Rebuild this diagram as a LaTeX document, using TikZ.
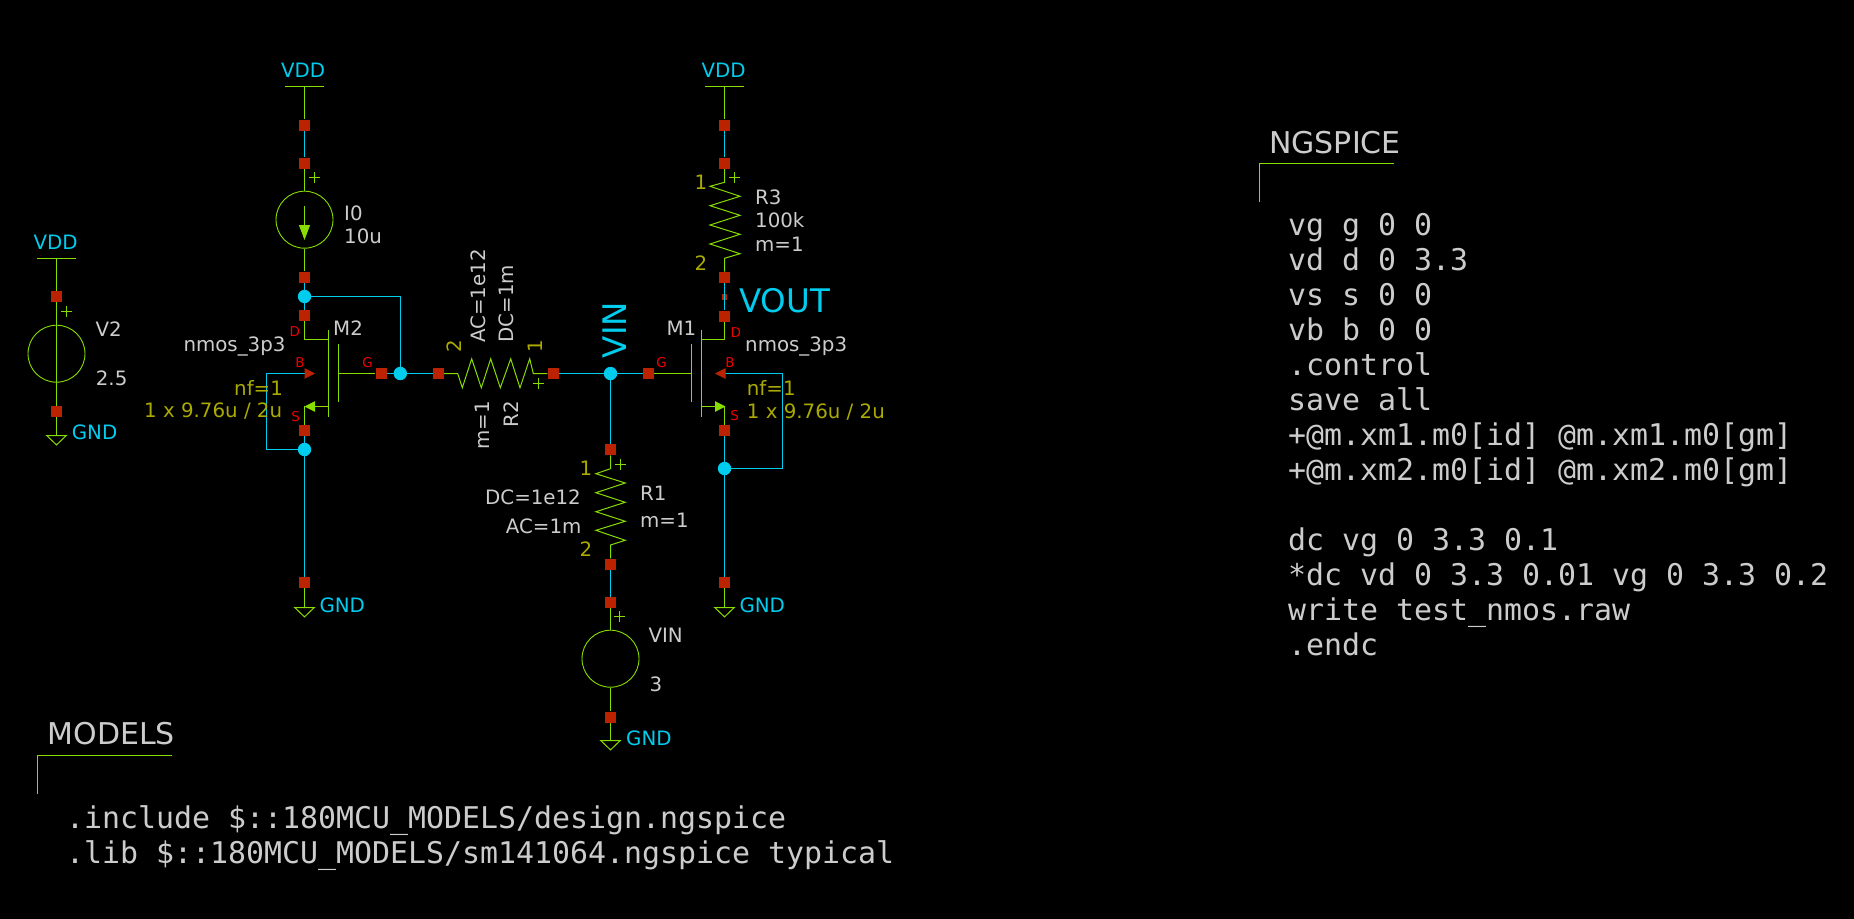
\documentclass[tikz,border=0pt]{standalone}
\usepackage{fontspec}
\setmainfont{DejaVu Sans}
\setmonofont{DejaVu Sans Mono}
\usetikzlibrary{arrows.meta, positioning, backgrounds}
\definecolor{symgreen}{HTML}{88DD00}
\definecolor{wireblue}{HTML}{00CCEE}
\definecolor{pinred}{HTML}{BB2200}
\definecolor{txtgray}{HTML}{CCCCCC}
\definecolor{attrolive}{HTML}{AAAA00}
\definecolor{pintxt}{HTML}{F00000}
\tikzset{
  pinbox/.style={rectangle, fill=pinred, minimum size=11pt, inner sep=0pt},
  tinybox/.style={rectangle, fill=pinred, minimum size=5.6pt, inner sep=0pt},
  junction/.style={circle, fill=wireblue, minimum size=13.4pt, inner sep=0pt},
  srcbody/.style={circle, draw=symgreen, line width=0.9pt, minimum size=57pt, inner sep=0pt},
  symline/.style={draw=symgreen, line width=1pt},
  wire/.style={draw=wireblue, line width=1pt},
  baselbl/.style={inner sep=0pt, anchor=base west, font=\fontsize{19.8}{22}\selectfont},
  textlbl/.style={baselbl, text=txtgray},
  netlbl/.style={baselbl, text=wireblue},
  biglbl/.style={baselbl, text=wireblue, font=\fontsize{32.5}{36}\selectfont},
  attrlbl/.style={baselbl, text=attrolive},
  pinlbl/.style={inner sep=0pt, text=pintxt, font=\fontsize{13.5}{15}\selectfont},
  headlbl/.style={baselbl, text=txtgray, font=\fontsize{30}{32}\selectfont},
  codelbl/.style={inner sep=0pt, anchor=north west, align=left, text=txtgray,
                  font=\ttfamily\fontsize{29.9}{35}\selectfont},
  srctip/.style={-{Triangle[length=10.5pt,width=10.5pt,color=symgreen]}},
  bulktip/.style={-{Triangle[length=10.5pt,width=10.5pt,color=pinred]}},
  plusmark/.pic={\draw[symline] (-5.5,0) -- (5.5,0) (0,-5.5) -- (0,5.5);},
  gndmark/.pic={\draw[symline] (-9.8,0) -- (9.8,0) -- (0,9.4) -- cycle;},
}
\begin{document}
\begin{tikzpicture}[x=1pt, y=-1pt, on grid]
  \useasboundingbox (0,0) rectangle (1854,918);
  \coordinate (vddv) at (56.5,258.5);
  \node[pinbox] (va) at (56.5,296.3) {};
  \node[srcbody, below=57.4pt of va] (vtwo) {};
  \node[pinbox, below=57.6pt of vtwo] (vb) {};
  \coordinate[below=24.2pt of vb] (gndv);
  \coordinate (vddi) at (304.5,86.5);
  \node[pinbox] (ia) at (304.5,125) {};
  \node[pinbox, below=38pt of ia] (ib) {};
  \node[srcbody, below=56.7pt of ib] (izero) {};
  \node[pinbox, below=57.3pt of izero] (ic) {};
  \node[junction, below=19.5pt of ic] (ndrain) {};
  \node[pinbox, below=19.2pt of ndrain] (mtwod) {};
  \node[pinbox] (mtwos) at (304.5,430.3) {};
  \node[junction, below=19.2pt of mtwos] (nsrc) {};
  \node[pinbox, below=133.2pt of nsrc] (gb) {};
  \coordinate[below=24.8pt of gb] (gndb);
  \node[pinbox] (mtwog) at (381,373.5) {};
  \node[junction, right=19.3pt of mtwog] (ngate) {};
  \node[pinbox, right=38pt of ngate] (rtwob) {};
  \node[pinbox, right=114.7pt of rtwob] (rtwoa) {};
  \node[junction, right=57.5pt of rtwoa] (nvin) {};
  \node[pinbox, right=38pt of nvin] (moneg) {};
  \node[pinbox, below=76.2pt of nvin] (roa) {};
  \node[pinbox, below=114.3pt of roa] (rob) {};
  \node[pinbox, below=38.3pt of rob] (va3) {};
  \node[srcbody, below=56.4pt of va3] (vvin) {};
  \node[pinbox, below=58.3pt of vvin] (vb3) {};
  \coordinate[below=23.5pt of vb3] (gndc);
  \coordinate (vddr) at (724.5,86.5);
  \node[pinbox] (ra) at (724.5,125) {};
  \node[pinbox, below=38pt of ra] (rb) {};
  \node[pinbox, below=114.3pt of rb] (rc) {};
  \node[tinybox, below=19.7pt of rc] (nvout) {};
  \node[pinbox, below=19pt of nvout] (moned) {};
  \node[pinbox] (mones) at (724.5,430.3) {};
  \node[junction, below=38.2pt of mones] (nsrcb) {};
  \node[pinbox, below=114.2pt of nsrcb] (gd) {};
  \coordinate[below=24.8pt of gd] (gndd);
  \coordinate (mtwoc) at (328.5,373.5);
  \coordinate (mtwop) at (338.5,373.5);
  \coordinate (monec) at (701.5,373.5);
  \coordinate (monep) at (691.5,373.5);
  \coordinate (mtwobk) at (266.5,373.5);
  \coordinate (mtwotip) at (315,373.5);
  \coordinate (monebk) at (782.5,373.5);
  \coordinate (monetip) at (715,373.5);
  \begin{scope}[on background layer]
    \fill[black] (-2,-2) rectangle (1856,920);
    \draw[symline] (vddv) -- (gndv);
    \draw[symline] ([xshift=-19.4pt]vddv) -- ([xshift=19.4pt]vddv);
    \draw[symline] (vddi) -- (ia);
    \draw[symline] ([xshift=-19.4pt]vddi) -- ([xshift=19.4pt]vddi);
    \draw[symline] (ib) -- (izero);
    \draw[symline] (izero) -- (ic);
    \draw[symline] (mtwod) |- ([yshift=34pt]mtwoc);
    \draw[symline] (mtwog) -- (mtwop);
    \draw[symline] (mtwos) -- ++(0,-24);
    \draw[symline] (gb) -- (gndb);
    \draw[symline] (vddr) -- (ra);
    \draw[symline] ([xshift=-19.4pt]vddr) -- ([xshift=19.4pt]vddr);
    \draw[symline] (moned) |- ([yshift=34pt]monec);
    \draw[symline] (moneg) -- (monep);
    \draw[symline] (mones) -- ++(0,-24);
    \draw[symline] (gd) -- (gndd);
    \draw[symline] (vb3) -- (gndc);
    \draw[symline] (va3) -- (vvin);
    \draw[symline] (vvin) -- (vb3);
    \draw[symline] (rtwob) -- (457.7,373.5) -- ++(4.6,14.3) -- ++(9.4,-29) -- ++(9.6,29) -- ++(9.4,-29)
      -- ++(9.6,29) -- ++(10.4,-29) -- ++(9.3,29) -- ++(9.7,-29) -- ++(3.6,14.7) -- (rtwoa);
    \draw[symline] (roa) -- (610.5,468.7) -- ++(-14.6,5) -- ++(29.3,9.3) -- ++(-29.3,9.7) -- ++(29.3,9.6)
      -- ++(-29.3,9.4) -- ++(29.3,9.6) -- ++(-29.3,9) -- ++(29.3,10) -- ++(-14.7,4.7) -- (rob);
    \draw[symline] (rb) -- (724.5,182.3) -- ++(-14.5,4) -- ++(30,10) -- ++(-30,9.4) -- ++(30,9.6)
      -- ++(-30,9.7) -- ++(30,9.3) -- ++(-30,9.7) -- ++(30,9.7) -- ++(-15.5,4.6) -- (rc);
  \end{scope}
  \draw[symline] (328.5,330) -- (328.5,416.7);
  \draw[symline] (338.5,344) -- (338.5,401.7);
  \draw[symline] (701.5,330) -- (701.5,416.7);
  \draw[symline] (691.5,344) -- (691.5,401.7);
  \draw[symline, srctip] ([yshift=-33pt]mtwoc) -- ([yshift=-33pt]mtwoc -| mtwos);
  \draw[symline, srctip] ([yshift=-33pt]monec) -- ([yshift=-33pt, xshift=1pt]monec -| mones);
  \draw[symline, -{Triangle[length=15pt,width=11pt,color=symgreen]}] ([yshift=13.7pt]izero.center) -- ([yshift=-20.3pt]izero.center);
  \pic at (gndv) {gndmark};
  \pic at (gndb) {gndmark};
  \pic at (gndc) {gndmark};
  \pic at (gndd) {gndmark};
  \pic at (66.5,311) {plusmark};
  \pic at (314.5,177.5) {plusmark};
  \pic at (538.5,383) {plusmark};
  \pic at (620,464) {plusmark};
  \pic at (619.5,616.5) {plusmark};
  \pic at (734.5,177.5) {plusmark};
  \draw[wire] (ia) -- (ib);
  \draw[wire] (ic) -- (mtwod);
  \draw[wire] (ndrain) -| (ngate);
  \draw[wire] (mtwog) -- (rtwob);
  \draw[wire] (mtwos) -- (gb);
  \draw[wire, bulktip] (nsrc) -| (mtwobk) -- (mtwotip);
  \draw[wire] (rtwoa) -- (moneg);
  \draw[wire] (nvin) -- (roa);
  \draw[wire] (rob) -- (va3);
  \draw[wire] (ra) -- (rb);
  \draw[wire] (rc) -- (moned);
  \draw[wire] (mones) -- (gd);
  \draw[wire, bulktip] (nsrcb) -| (monebk) -- (monetip);
  \node[netlbl] (lvddv) at (33.3,249) {VDD};
  \node[netlbl] (lvddi) at (281,77.3) {VDD};
  \node[netlbl] (lvddr) at (701.3,77.3) {VDD};
  \node[netlbl] (lgndv) at (71.7,439.3) {GND};
  \node[netlbl] (lgndb) at (319.3,612.4) {GND};
  \node[netlbl] (lgndc) at (626,745) {GND};
  \node[netlbl] (lgndd) at (739.3,612.4) {GND};
  \node[biglbl] (lvout) at (739,312) {VOUT};
  \node[biglbl, rotate=90] (lvin) at (626,358.3) {VIN};
  \node[textlbl] (lvtwo) at (95.3,336.7) {V2};
  \node[textlbl] (lvtwov) at (95.7,385) {2.5};
  \node[textlbl] (lizero) at (344,220) {I0};
  \node[textlbl] (lizerov) at (344,243) {10u};
  \node[textlbl] (lmtwo) at (333,335) {M2};
  \node[textlbl] (lmtwom) at (183.3,351.7) {nmos\_3p3};
  \node[attrlbl] (lmtwof) at (234,395) {nf=1};
  \node[attrlbl] (lmtwos) at (144,417.7) {1 x 9.76u / 2u};
  \node[pinlbl] (pmtwod) at (294.7,332) {D};
  \node[pinlbl] (pmtwob) at (300,363) {B};
  \node[pinlbl] (pmtwos) at (295.7,416.3) {S};
  \node[pinlbl] (pmtwog) at (367.7,363) {G};
  \node[textlbl] (lmone) at (666.3,335) {M1};
  \node[textlbl] (lmonem) at (745,351.7) {nmos\_3p3};
  \node[attrlbl] (lmonef) at (746.7,395) {nf=1};
  \node[attrlbl] (lmones) at (746.7,418.3) {1 x 9.76u / 2u};
  \node[pinlbl] (pmoned) at (735.7,332.3) {D};
  \node[pinlbl] (pmoneb) at (730,363) {B};
  \node[pinlbl] (pmones) at (734.7,416) {S};
  \node[pinlbl] (pmoneg) at (661.7,363) {G};
  \node[textlbl, rotate=90] (lrtwoac) at (485,343) {AC=1e12};
  \node[textlbl, rotate=90] (lrtwodc) at (513.3,342.7) {DC=1m};
  \node[attrlbl, rotate=90] (lrtwob) at (461,353) {2};
  \node[attrlbl, rotate=90] (lrtwoa) at (542,353) {1};
  \node[textlbl, rotate=90] (lrtwom) at (489.3,450) {m=1};
  \node[textlbl, rotate=90] (lrtwo) at (518.3,427.7) {R2};
  \node[attrlbl] (lroa) at (579.3,475.7) {1};
  \node[attrlbl] (lrob) at (579.3,556.7) {2};
  \node[textlbl] (lrodc) at (485,504) {DC=1e12};
  \node[textlbl] (lroac) at (505.7,533.3) {AC=1m};
  \node[textlbl] (lro) at (640,500) {R1};
  \node[textlbl] (lrom) at (640,527.7) {m=1};
  \node[textlbl] (lvvin) at (648.3,642.7) {VIN};
  \node[textlbl] (lvvinv) at (649.3,691) {3};
  \node[attrlbl] (lra) at (694.3,189) {1};
  \node[attrlbl] (lrb) at (694.3,270) {2};
  \node[textlbl] (lr) at (755,204) {R3};
  \node[textlbl] (lrv) at (755,227.3) {100k};
  \node[textlbl] (lrm) at (755,251) {m=1};
  \node[headlbl] (lngspice) at (1269,153.7) {NGSPICE};
  \coordinate (ngcorner) at (1259.5,163.5);
  \draw[symline] (ngcorner |- 0,201.7) -- (ngcorner) -- (1393.7,163.5);
  \node[codelbl] (ngcode) at (1288,213) {vg g 0 0\\vd d 0 3.3\\vs s 0 0\\vb b 0 0\\.control\\save all\\
    +@m.xm1.m0[id] @m.xm1.m0[gm]\\+@m.xm2.m0[id] @m.xm2.m0[gm]\\ \mbox{}\\dc vg 0 3.3 0.1\\
    *dc vd 0 3.3 0.01 vg 0 3.3 0.2\\write test\_nmos.raw\\.endc};
  \node[headlbl] (lmodels) at (47.5,744.3) {MODELS};
  \coordinate (mdcorner) at (37.5,755.5);
  \draw[symline] (mdcorner |- 0,793.7) -- (mdcorner) -- (171.7,755.5);
  \node[codelbl] (mdcode) at (66,805) {.include \$::180MCU\_MODELS/design.ngspice\\.lib \$::180MCU\_MODELS/sm141064.ngspice typical};
\end{tikzpicture}
\end{document}
